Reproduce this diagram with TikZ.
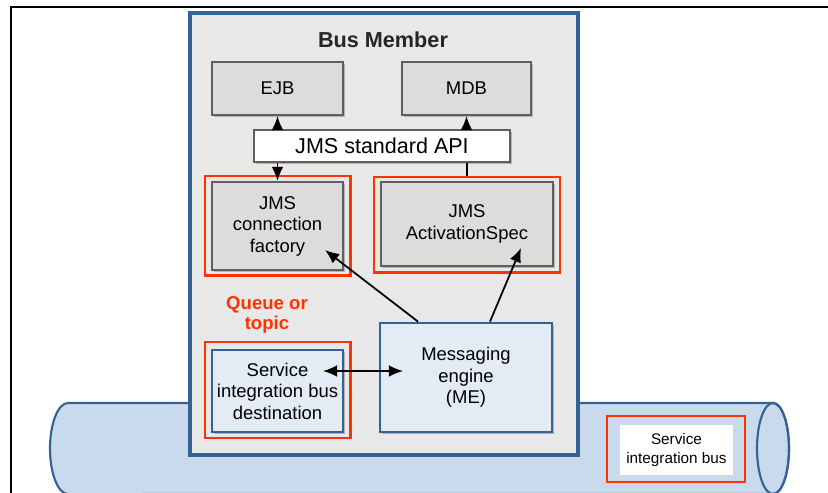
\documentclass[tikz,border=0pt]{standalone}
\usepackage{fontspec}
\setmainfont{Liberation Sans}
\usetikzlibrary{arrows.meta,shadows}

\begin{document}
\begin{tikzpicture}[x=0.85pt,y=-0.85pt,
    txt/.style={font=\fontsize{15.7}{18.3}\selectfont,align=center,inner sep=1pt},
    shad/.style={drop shadow={shadow xshift=1.4pt,shadow yshift=-1.4pt,opacity=0.5}},
    graybox/.style={txt,draw=myedge,fill=mygray,line width=1.8pt,shad},
    bluebox/.style={txt,draw=myblue,fill=mylight,line width=2.3pt,shad},
    redbox/.style={draw=myred,line width=2.5pt,inner sep=0pt},
    arr/.style={-{Latex[length=12pt,width=10pt]},line width=1.5pt},
    darr/.style={{Latex[length=12pt,width=10pt]}-{Latex[length=12pt,width=10pt]},line width=1.5pt}]
    \definecolor{myblue}{RGB}{52,98,150}
    \definecolor{mylight}{RGB}{227,235,245}
    \definecolor{mybus}{RGB}{201,218,236}
    \definecolor{mymember}{RGB}{232,232,232}
    \definecolor{mygray}{RGB}{220,220,220}
    \definecolor{myedge}{RGB}{95,95,95}
    \definecolor{myred}{RGB}{255,51,0}

    \useasboundingbox (0,0) rectangle (828,493);

    % the bus
    \filldraw[fill=mybus,draw=myblue,line width=1.8pt]
        (773,403) -- (68,403)
        arc[start angle=90,end angle=270,x radius=15.3pt,y radius=38.7pt]
        -- (773,494)
        arc[start angle=-90,end angle=90,x radius=13.6pt,y radius=38.7pt] -- cycle;
    \draw[myblue,line width=1.8pt] (773,448.5) ellipse[x radius=13.6pt,y radius=38.7pt];

    \draw[line width=1pt] (11,493) -- (11,7) -- (828,7);

    % bus member
    \filldraw[fill=mymember,draw=myblue,line width=3pt,shad] (190,13) rectangle (578,455);
    \node[font=\fontsize{18.4}{20}\selectfont\bfseries,text=black!85] (title) at (383,40) {Bus Member};

    \node[graybox,minimum width=111.4pt,minimum height=45pt] (ejb) at (277.5,88.5) {EJB};
    \node[graybox,minimum width=109.7pt,minimum height=45pt] (mdb) at (466.5,88.5) {MDB};
    \node[txt,draw=myedge,fill=white,line width=1.8pt,shad,minimum width=217.6pt,minimum height=27.2pt,
        font=\fontsize{18.3}{20}\selectfont] (api) at (382,146) {JMS standard API};

    \node[redbox,minimum width=123.3pt,minimum height=84.2pt] (cfred) at (277.5,225.5) {};
    \node[graybox,minimum width=111.4pt,minimum height=74.8pt] (cf) at (277.5,226) {JMS\\connection\\factory};
    \node[redbox,minimum width=158.1pt,minimum height=80.8pt] (asred) at (467,224.5) {};
    \node[graybox,minimum width=146.2pt,minimum height=71.4pt] (as) at (467,224) {JMS\\ActivationSpec};

    \node[font=\fontsize{15.8}{17}\selectfont\bfseries,text=myred,align=center] (queue) at (267,315) {Queue or\\topic};

    \node[redbox,minimum width=123.3pt,minimum height=81.6pt] (destred) at (277.5,390) {};
    \node[bluebox,minimum width=111.4pt,minimum height=69.7pt] (dest) at (277.5,391) {Service\\integration bus\\destination};
    \node[bluebox,minimum width=146.2pt,minimum height=92.7pt] (me) at (466,377.5) {Messaging\\engine\\(ME)};

    \node[redbox,minimum width=117.3pt,minimum height=56.1pt] (busred) at (676,449) {};
    \node[txt,fill=white,minimum width=96pt,minimum height=42.5pt,
        font=\fontsize{13}{16}\selectfont] (bus) at (676.5,450) {Service\\integration bus};

    % connectors
    \coordinate (cftip) at (325,250);
    \coordinate (astip) at (521,248);
    \coordinate (destend) at (323,371);
    \coordinate (meend) at (403,371);

    \draw[arr] (api.north -| ejb) -- (ejb.south);
    \draw[arr] (api.north -| mdb) -- (mdb.south);
    \draw[arr] (api.south -| cf) -- (cf.north);
    \draw[line width=1.5pt] (asred.north) -- (api.south -| asred);
    \draw[arr] ([xshift=-40.8pt]me.north) -- (cftip);
    \draw[arr] ([xshift=20.4pt]me.north) -- (astip);
    \draw[darr] (destend) -- (meend);
\end{tikzpicture}
\end{document}
